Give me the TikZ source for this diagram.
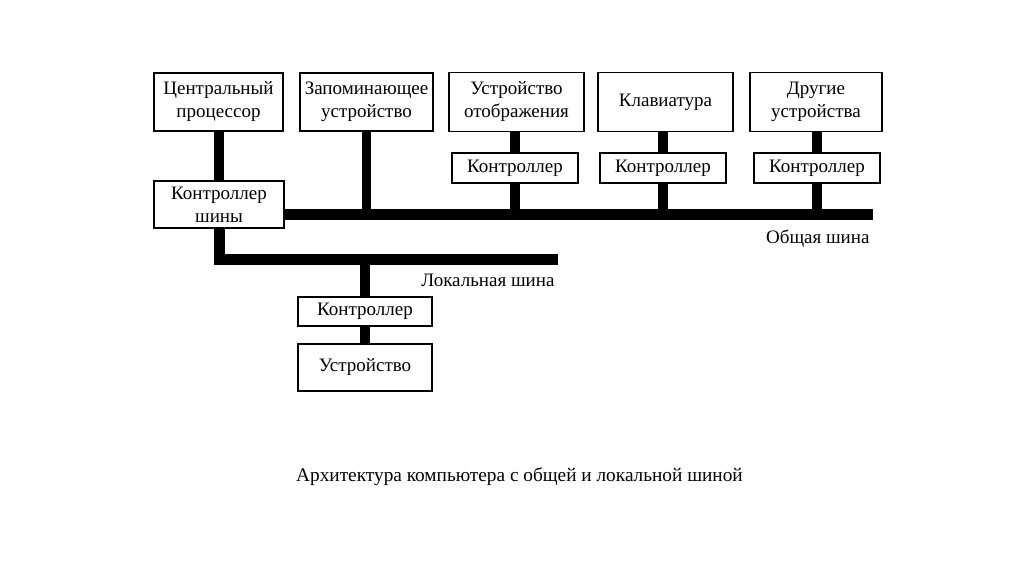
\documentclass[tikz,border=0pt]{standalone}
\usepackage{fontspec}
\setmainfont{Liberation Serif}
\usetikzlibrary{positioning}
\tikzset{blok/.style = {draw, line width = 1.8, inner sep = 0, align = center,
    font = \fontsize{19}{23}\selectfont}}
\tikzset{shina/.style = {line width = 11}}
\tikzset{stoika/.style = {line width = 9.5}}

\begin{document}
\begin{tikzpicture}[x = 1pt, y = -1pt]
    \useasboundingbox (0, 0) rectangle (1024, 574);

    \node [blok, minimum width = 129, minimum height = 58] (cpu) at (218.5, 102) {Центральный\\процессор};
    \node [blok, minimum width = 133, minimum height = 58] (mem) at (366.5, 102) {Запоминающее\\устройство};
    \node [blok, minimum width = 135, minimum height = 59] (disp) at (516.5, 102) {Устройство\\отображения};
    \node [blok, minimum width = 135, minimum height = 59] (kbd) at (665.5, 102) {Клавиатура};
    \node [blok, minimum width = 132, minimum height = 59] (other) at (816, 102) {Другие\\устройства};

    \node [blok, minimum width = 126, minimum height = 30] (dispctl) at (515, 168) {Контроллер};
    \node [blok, minimum width = 126, minimum height = 30] (kbdctl) at (663, 168) {Контроллер};
    \node [blok, minimum width = 126, minimum height = 30] (otherctl) at (817, 168) {Контроллер};

    \node [blok, minimum width = 130, minimum height = 47] (busctl) at (219, 204.5) {Контроллер\\шины};

    \node [blok, minimum width = 134, minimum height = 29] (locctl) at (365, 311.5) {Контроллер};
    \node [blok, minimum width = 134, minimum height = 47] (dev) at (365, 367.5) {Устройство};

    % общая шина
    \coordinate (gb) at (873, 214);
    \draw [shina] (busctl.east |- gb) -- (gb);
    \node [anchor = east, font = \fontsize{19}{22}\selectfont] (gbtext) at (873, 239) {Общая шина};

    % локальная шина
    \coordinate (lb) at (558, 259);
    \draw [shina] (busctl.south) |- (lb);
    \node [anchor = east, font = \fontsize{19}{22}\selectfont] (lbtext) at (558, 280) {Локальная шина};

    \draw [stoika] (busctl.north |- cpu.south) -- (busctl.north);
    \draw [stoika] (mem.south) -- (mem.south |- gb);
    \draw [stoika] (dispctl.north |- disp.south) -- (dispctl.north);
    \draw [stoika] (dispctl.south) -- (dispctl.south |- gb);
    \draw [stoika] (kbdctl.north |- kbd.south) -- (kbdctl.north);
    \draw [stoika] (kbdctl.south) -- (kbdctl.south |- gb);
    \draw [stoika] (otherctl.north |- other.south) -- (otherctl.north);
    \draw [stoika] (otherctl.south) -- (otherctl.south |- gb);
    \draw [stoika] (locctl.north |- lb) -- (locctl.north);
    \draw [stoika] (locctl.south) -- (dev.north);

    \node [font = \fontsize{19.3}{22}\selectfont] (caption) at (519.5, 477) {Архитектура компьютера с общей и локальной шиной};
  \end{tikzpicture}
\end{document}
